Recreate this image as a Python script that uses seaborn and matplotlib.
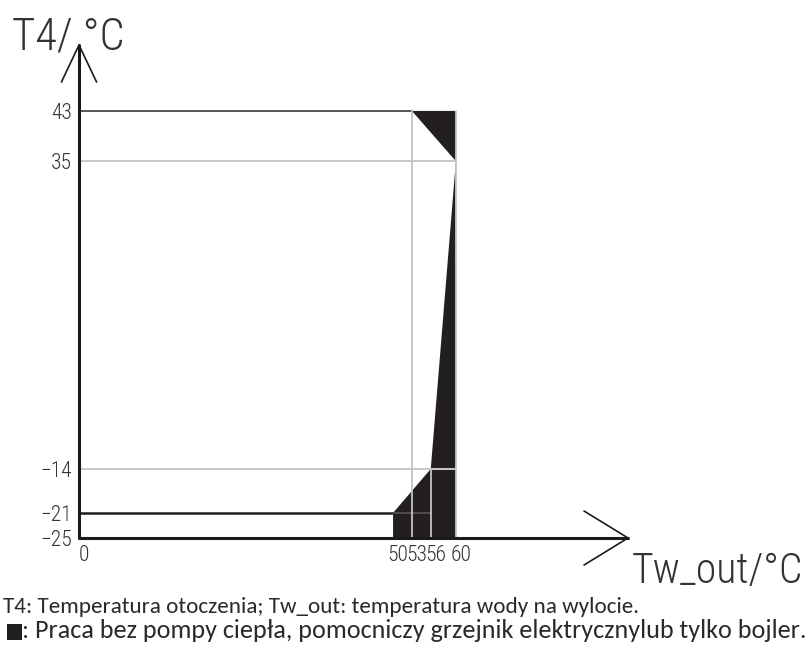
import matplotlib
matplotlib.use("Agg")
import matplotlib.pyplot as plt
import matplotlib.transforms as mtransforms
from matplotlib.patches import Rectangle
import seaborn as sns
import pandas as pd

sns.set_theme(style="white")
cad_font = ["Roboto Condensed", "DejaVu Sans"]
plt.rcParams["font.family"] = cad_font

# Ambient temperature levels (T4) and outlet water temperature marks (Tw_out)
t4_ticks = [43, 35, -14, -21, -25]
tw_ticks = [0, 50, 53, 56, 60]
tw_tick_labels = ["0", "50", "53", "56", "60"]

# Boundary of the zone without heat pump (electric heater / boiler only)
zone_tw = [50, 50, 56, 60, 53, 60, 60]
zone_t4 = [-25, -21, -14, 35, 43, 43, -25]

# Horizontal guides: name, Tw_out start, Tw_out end, T4
h_name = ["h43", "h35", "h-14", "h-21", "h-21in"]
h_tw0 = [0, 0, 0, 0, 50]
h_tw1 = [53, 60, 60, 50, 56]
h_t4 = [43, 35, -14, -21, -21]
# Vertical guides: Tw_out, T4 start, T4 end
v_tw = [53, 56, 60]
v_t40 = [-25, -25, -25]
v_t41 = [43, -14, 43]

x_max, y_min, y_max = 87.4, -25, 53.5

W, H = 810, 653
fig = plt.figure(figsize=(W / 100, H / 100), dpi=100)
ax = fig.add_axes([79 / W, (H - 538) / H, (628 - 79) / W, (538 - 45) / H])
ax.set_xlim(0, x_max)
ax.set_ylim(y_min, y_max)
for s in ax.spines.values():
    s.set_visible(False)
ax.patch.set_alpha(0)

# filled zone
ax.fill(zone_tw, zone_t4, color="#231f20", lw=0, zorder=2)

# horizontal guides
rows = []
for n, a, b, t in zip(h_name, h_tw0, h_tw1, h_t4):
    rows += [dict(line=n, tw=a, t4=t), dict(line=n, tw=b, t4=t)]
hdf = pd.DataFrame(rows)
hstyle = {"h43": ("#2a2a2a", 1.1, 3), "h35": ("#c8c8c8", 1.4, 1),
          "h-14": ("#c8c8c8", 1.4, 3), "h-21": ("#1e1e1e", 1.8, 3),
          "h-21in": ("#555555", 1.2, 3)}
for n, g in hdf.groupby("line", sort=False):
    c, lw, z = hstyle[n]
    sns.lineplot(data=g, x="tw", y="t4", ax=ax, color=c, lw=lw, zorder=z,
                 estimator=None, sort=False, legend=False)

# vertical guides
vrows = []
for i, (x, a, b) in enumerate(zip(v_tw, v_t40, v_t41)):
    vrows += [dict(line=i, tw=x, t4=a), dict(line=i, tw=x, t4=b)]
vdf = pd.DataFrame(vrows)
sns.lineplot(data=vdf, x="tw", y="t4", units="line", ax=ax, color="#c4c4c4",
             lw=1.3, zorder=3, estimator=None, sort=False, legend=False)
ax.set_xlabel("")
ax.set_ylabel("")

# axes with open arrowheads
ax.plot([0, 0], [y_min, y_max], color="#1a1a1a", lw=2.2, clip_on=False, zorder=4)
ax.plot([0, x_max], [y_min, y_min], color="#1a1a1a", lw=2.2, clip_on=False, zorder=4)
ax.plot([-2.8, 0, 2.8], [y_max - 5.9, y_max, y_max - 5.9], color="#1a1a1a",
        lw=1.2, clip_on=False, zorder=4)
ax.plot([x_max - 7.0, x_max, x_max - 7.0], [y_min + 4.3, y_min, y_min - 4.3],
        color="#1a1a1a", lw=1.2, clip_on=False, zorder=4)

# tick labels
ax.set_yticks(t4_ticks)
ax.set_yticklabels([str(v).replace("-", "\u2212") for v in t4_ticks])
ax.set_xticks(tw_ticks)
ax.set_xticklabels(tw_tick_labels)
ax.tick_params(axis="both", length=0, labelsize=15.5, colors="#333333")
ax.tick_params(axis="y", pad=5)
ax.tick_params(axis="x", pad=5)
shift = mtransforms.ScaledTranslation(5 / 100, 0, fig.dpi_scale_trans)
for lab in ax.get_xticklabels():
    lab.set_transform(lab.get_transform() + shift)
for lab in ax.get_xticklabels() + ax.get_yticklabels():
    lab.set_fontweight("light")
ax.grid(False)

# axis titles
fig.text(12 / W, 1 - 50 / H, "T4/ °C", fontsize=32, color="#333333",
         fontweight="light", ha="left", va="baseline")
fig.text(632 / W, 1 - 583 / H, "Tw_out/°C", fontsize=30, color="#333333",
         fontweight="light", ha="left", va="baseline")

# notes below the chart
note_font = ["Carlito", "DejaVu Sans"]
fig.text(3 / W, 1 - 613 / H,
         "T4: Temperatura otoczenia; Tw_out: temperatura wody na wylocie.",
         fontsize=16.7, family=note_font, color="#2a2a2a", va="baseline")
fig.add_artist(Rectangle((7 / W, 1 - 640 / H), 15 / W, 16 / H,
                         transform=fig.transFigure, color="#231f20", lw=0))
fig.text(22 / W, 1 - 638 / H,
         ": Praca bez pompy ciepła, pomocniczy grzejnik elektrycznylub tylko bojler.",
         fontsize=18.8, family=note_font, color="#2a2a2a", va="baseline")

fig.savefig("out.png", dpi=100)
